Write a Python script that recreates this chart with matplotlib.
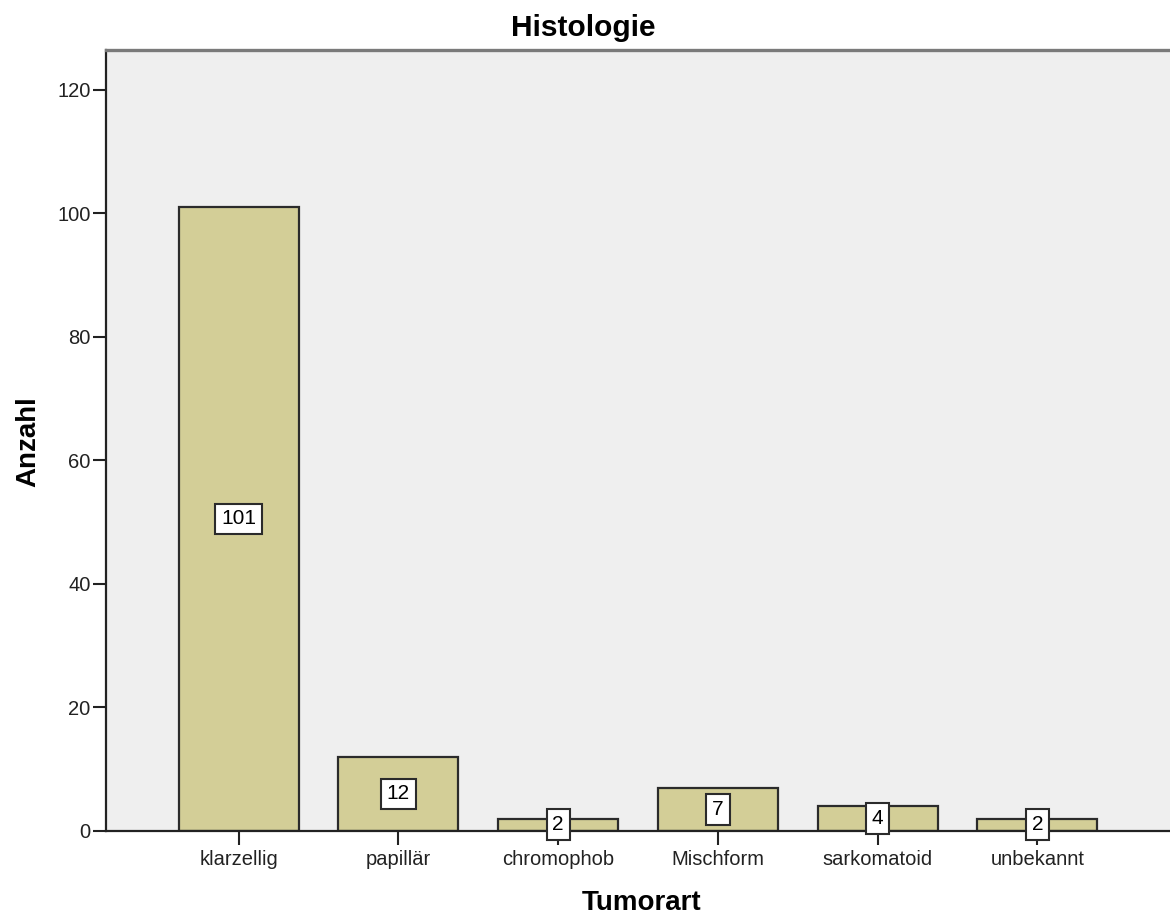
import matplotlib.pyplot as plt

categories = ['klarzellig', 'papillär', 'chromophob', 'Mischform', 'sarkomatoid', 'unbekannt']
counts = [101, 12, 2, 7, 4, 2]
y_ticks = [0, 20, 40, 60, 80, 100, 120]

plt.rcParams['font.family'] = ['Liberation Sans', 'DejaVu Sans']

fig = plt.figure(figsize=(11.70, 9.15), dpi=100)
fig.patch.set_facecolor('white')
ax = fig.add_axes([106 / 1170, 1 - 831 / 915, 1 - 106 / 1170, (831 - 50) / 915])
ax.set_facecolor('#efefef')

x = list(range(len(categories)))
ax.bar(x, counts, width=0.75, color='#d3ce97', edgecolor='#2b2b2b', linewidth=1.6, zorder=2)

# value boxes sit in the middle of each bar
for xi, v in zip(x, counts):
    ax.text(xi, v / 2, str(v), ha='center', va='center', fontsize=15, color='black', zorder=5,
            bbox=dict(boxstyle='square,pad=0.28', facecolor='white', edgecolor='#2b2b2b', linewidth=1.5))

ax.set_xlim(-0.83, 5.83)
ax.set_ylim(0, 126.4)
ax.set_xticks(x)
ax.set_xticklabels(categories, fontsize=14.5, color='#222222')
ax.set_yticks(y_ticks)
ax.set_yticklabels([str(t) for t in y_ticks], fontsize=14.5, color='#222222')
ax.tick_params(axis='x', length=10, width=1.5, pad=3.5, color='#222222')
ax.tick_params(axis='y', length=9.5, width=1.5, pad=1.5, color='#222222')

ax.spines['right'].set_visible(False)
ax.spines['left'].set_color('#222222')
ax.spines['left'].set_linewidth(1.6)
ax.spines['bottom'].set_color('#222222')
ax.spines['bottom'].set_linewidth(1.6)
ax.spines['top'].set_color('#7a7a7a')
ax.spines['top'].set_linewidth(2.4)

fig.text(583 / 1170, 1 - 28 / 915, 'Histologie', ha='center', va='center', fontsize=21.5, fontweight='bold')
fig.text(642 / 1170, 1 - 903 / 915, 'Tumorart', ha='center', va='center', fontsize=20, fontweight='bold')
fig.text(28 / 1170, 1 - 442 / 915, 'Anzahl', ha='center', va='center', rotation=90, fontsize=20, fontweight='bold')

fig.savefig('out.png', dpi=100, facecolor=fig.get_facecolor())
